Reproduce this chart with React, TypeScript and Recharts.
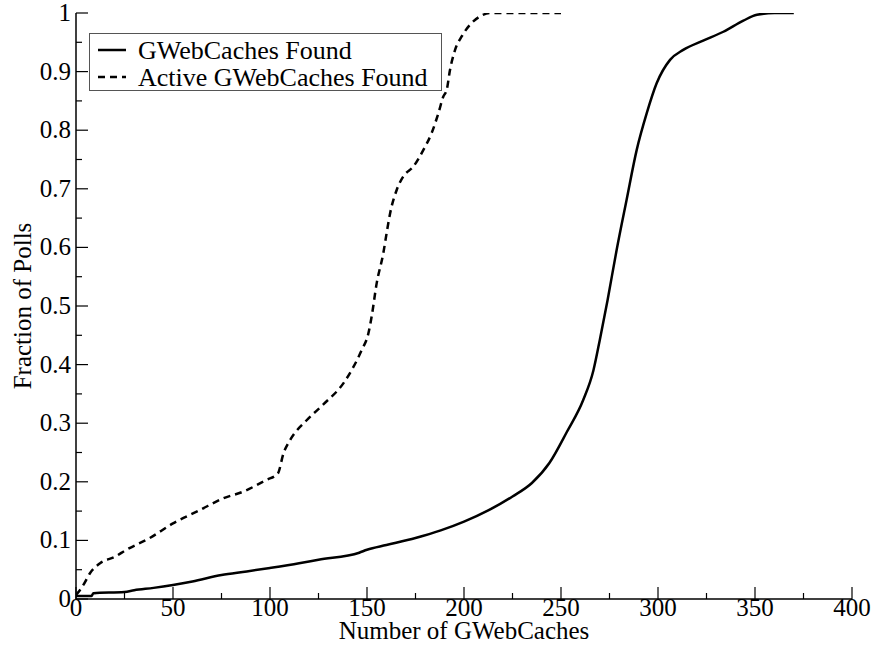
import { LineChart, Line, XAxis, YAxis, Legend } from 'recharts';

// GWebCaches Found (solid)
const foundX = [0, 8, 9, 25, 30, 40, 50, 60, 75, 88, 100, 115, 125, 146, 150, 160, 175, 188, 200, 213, 225, 235, 244, 253, 261.5, 266.7, 270, 274, 278.7, 283.8, 289, 294.2, 299.3, 306.2, 313, 323.3, 333.7, 344, 351, 360, 370];
const foundY = [0.005, 0.005, 0.01, 0.012, 0.015, 0.019, 0.024, 0.03, 0.041, 0.047, 0.053, 0.061, 0.067, 0.079, 0.084, 0.092, 0.104, 0.117, 0.132, 0.152, 0.175, 0.198, 0.232, 0.285, 0.34, 0.39, 0.442, 0.51, 0.596, 0.681, 0.766, 0.829, 0.88, 0.92, 0.937, 0.953, 0.968, 0.987, 0.997, 1, 1];

// Active GWebCaches Found (dashed)
const activeX = [0, 2, 3.8, 7.2, 12.4, 20, 26, 38, 50, 64, 76, 86, 98, 104, 107, 110.3, 118.9, 127.5, 137.8, 143, 147.3, 150.7, 152.4, 155, 158.4, 160.1, 161.9, 165.3, 168.7, 173.9, 179, 183.3, 186.8, 189.3, 191.1, 192.8, 195.4, 198.8, 203.1, 208.2, 213.4, 250];
const activeY = [0.007, 0.015, 0.024, 0.044, 0.061, 0.072, 0.084, 0.104, 0.129, 0.152, 0.172, 0.183, 0.203, 0.214, 0.249, 0.271, 0.305, 0.332, 0.368, 0.396, 0.425, 0.453, 0.482, 0.539, 0.59, 0.624, 0.658, 0.698, 0.721, 0.738, 0.766, 0.795, 0.829, 0.857, 0.869, 0.903, 0.937, 0.96, 0.98, 0.994, 1, 1];

const seriesNames = ['GWebCaches Found', 'Active GWebCaches Found'];

const xMajor = [0, 50, 100, 150, 200, 250, 300, 350, 400];
const xMinor = [25, 75, 125, 175, 225, 275, 325, 375];
const yMajor = [0, 0.1, 0.2, 0.3, 0.4, 0.5, 0.6, 0.7, 0.8, 0.9, 1];
const yMinor = [0.05, 0.15, 0.25, 0.35, 0.45, 0.55, 0.65, 0.75, 0.85, 0.95];

const xTicks = [...xMajor, ...xMinor].sort((a, b) => a - b);
const yTicks = [...yMajor, ...yMinor].sort((a, b) => a - b);

const FONT = '"Liberation Serif", "Times New Roman", serif';

const foundData = foundX.map((x, i) => ({ x, y: foundY[i] }));
const activeData = activeX.map((x, i) => ({ x, y: activeY[i] }));

const isMajor = (list: number[], v: number) => list.some(m => Math.abs(m - v) < 1e-6);
const fmtY = (v: number) => (v === 0 ? '0' : v === 1 ? '1' : v.toFixed(1));

const BottomTick = ({ x, y, payload }: any) => {
  const major = isMajor(xMajor, payload.value);
  return (
    <g>
      <line x1={x} y1={y} x2={x} y2={y - (major ? 12 : 6)} stroke="#000" strokeWidth={1.2} />
      {major && (
        <text x={x} y={y + 17} textAnchor="middle" fontSize={25} fontFamily={FONT} fill="#000">
          {payload.value}
        </text>
      )}
    </g>
  );
};

const TopTick = ({ x, y, payload }: any) => {
  const major = isMajor(xMajor, payload.value);
  return <line x1={x} y1={y} x2={x} y2={y + (major ? 12 : 6)} stroke="#000" strokeWidth={1.2} />;
};

const LeftTick = ({ x, y, payload }: any) => {
  const major = isMajor(yMajor, payload.value);
  return (
    <g>
      <line x1={x} y1={y} x2={x + (major ? 12 : 6)} y2={y} stroke="#000" strokeWidth={1.2} />
      {major && (
        <text x={x - 5} y={y + 8} textAnchor="end" fontSize={25} fontFamily={FONT} fill="#000">
          {fmtY(payload.value)}
        </text>
      )}
    </g>
  );
};

const RightTick = ({ x, y, payload }: any) => {
  const major = isMajor(yMajor, payload.value);
  return <line x1={x} y1={y} x2={x - (major ? 12 : 6)} y2={y} stroke="#000" strokeWidth={1.2} />;
};

const YTitle = ({ viewBox }: any) => (
  <text
    transform={`translate(${viewBox.x + 31},${viewBox.y + viewBox.height / 2}) rotate(-90)`}
    textAnchor="middle"
    fontSize={25}
    fontFamily={FONT}
    fill="#000"
  >
    Fraction of Polls
  </text>
);

const XTitle = ({ viewBox }: any) => (
  <text
    x={viewBox.x + viewBox.width / 2}
    y={viewBox.y + 40}
    textAnchor="middle"
    fontSize={25}
    fontFamily={FONT}
    fill="#000"
  >
    Number of GWebCaches
  </text>
);

const LegendBox = ({ payload }: any) => {
  const items = [...(payload || [])].sort(
    (a: any, b: any) => seriesNames.indexOf(a.value) - seriesNames.indexOf(b.value)
  );
  return (
    <div
      style={{
        position: 'relative',
        width: 351,
        height: 56,
        border: '1px solid #555',
        background: '#fff',
        fontFamily: FONT,
        fontSize: 26,
        color: '#000',
      }}
    >
      {items.map((entry: any, i: number) => (
        <div
          key={entry.value}
          style={{ position: 'absolute', left: 0, top: 3 + i * 27, height: 27, display: 'flex', alignItems: 'center' }}
        >
          <svg width={48} height={27}>
            <line
              x1={8}
              y1={13}
              x2={36}
              y2={13}
              stroke="#000"
              strokeWidth={2.5}
              strokeDasharray={entry.payload?.strokeDasharray}
            />
          </svg>
          <span style={{ lineHeight: '27px' }}>{entry.value}</span>
        </div>
      ))}
    </div>
  );
};

const App = () => {
  return (
    <div style={{ position: 'absolute', left: 0, top: 0, width: 875, height: 657, background: '#fff' }}>
      <LineChart width={875} height={657} margin={{ top: 13, right: 23, left: 0, bottom: 0 }}>
        <XAxis
          dataKey="x"
          type="number"
          domain={[0, 400]}
          allowDataOverflow
          ticks={xTicks}
          interval={0}
          height={58}
          tickSize={0}
          tickMargin={0}
          tickLine={false}
          tick={<BottomTick />}
          axisLine={{ stroke: '#000', strokeWidth: 1.5 }}
          label={<XTitle />}
        />
        <XAxis
          xAxisId="top"
          orientation="top"
          dataKey="x"
          type="number"
          domain={[0, 400]}
          allowDataOverflow
          ticks={xTicks}
          interval={0}
          height={0}
          tickSize={0}
          tickMargin={0}
          tickLine={false}
          tick={<TopTick />}
          axisLine={{ stroke: '#000', strokeWidth: 1.5 }}
        />
        <YAxis
          type="number"
          domain={[0, 1]}
          allowDataOverflow
          ticks={yTicks}
          interval={0}
          width={76}
          tickSize={0}
          tickMargin={0}
          tickLine={false}
          tick={<LeftTick />}
          axisLine={{ stroke: '#000', strokeWidth: 1.5 }}
          label={<YTitle />}
        />
        <YAxis
          yAxisId="right"
          orientation="right"
          type="number"
          domain={[0, 1]}
          allowDataOverflow
          ticks={yTicks}
          interval={0}
          width={0}
          tickSize={0}
          tickMargin={0}
          tickLine={false}
          tick={<RightTick />}
          axisLine={{ stroke: '#000', strokeWidth: 1.5 }}
        />
        <Legend
          layout="vertical"
          align="center"
          verticalAlign="middle"
          content={<LegendBox />}
          wrapperStyle={{ left: 89, top: 33, width: 353, height: 58 }}
        />
        <Line
          data={foundData}
          dataKey="y"
          name="GWebCaches Found"
          type="monotone"
          stroke="#000"
          strokeWidth={2.5}
          dot={false}
          isAnimationActive={false}
        />
        <Line
          data={activeData}
          dataKey="y"
          name="Active GWebCaches Found"
          type="monotone"
          stroke="#000"
          strokeWidth={2.5}
          strokeDasharray="7 5"
          dot={false}
          isAnimationActive={false}
        />
      </LineChart>
    </div>
  );
};

export default App;
